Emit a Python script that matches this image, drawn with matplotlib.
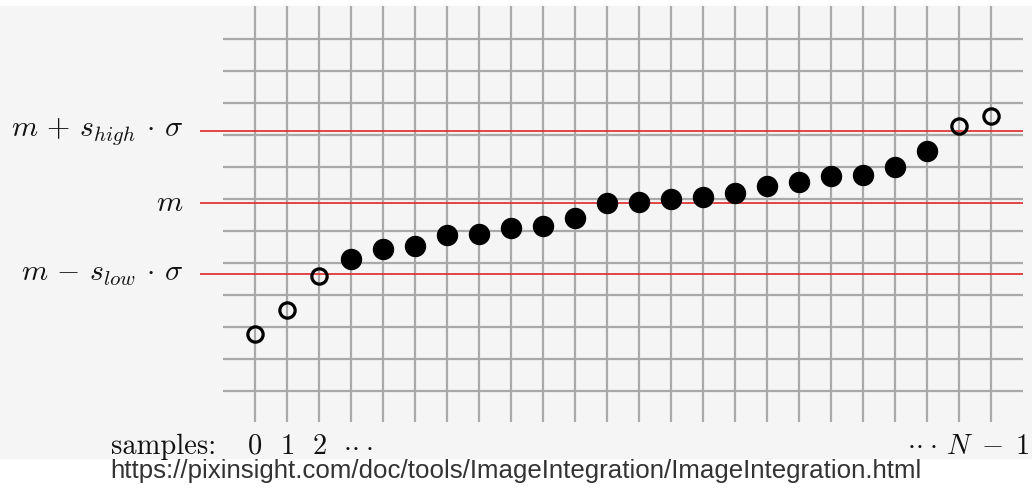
"""Sigma-clipping illustration: sorted samples vs. m +/- s*sigma rejection bounds."""
import numpy as np
import matplotlib; matplotlib.use("Agg")
import matplotlib.pyplot as plt

plt.rcParams["mathtext.fontset"] = "cm"

# sorted pixel samples, in grid units (one grid cell = 1)
samples = list(range(24))
values = [1.78, 2.53, 3.60, 4.13, 4.44, 4.53, 4.88, 4.91, 5.09, 5.16, 5.41, 5.88,
          5.90, 6.00, 6.06, 6.19, 6.41, 6.53, 6.72, 6.75, 7.00, 7.50, 8.28, 8.59]
rejected = [True, True, True] + [False] * 19 + [True, True]

# clipping levels
levels = [8.13, 5.89, 3.66]
level_labels = [r"$m\,+\,s_{high}\,\cdot\,\sigma$", r"$m$", r"$m\,-\,s_{low}\,\cdot\,\sigma$"]

tick_samples = [0, 1, 2]
tick_labels = ["0", "1", "2"]

GRID, RED, BG = "#a9a9a9", "#e03838", "#f5f5f5"

fig = plt.figure(figsize=(10.32, 4.95), dpi=100)
ax = fig.add_axes([0, 0, 1, 1])
# data units: x = sample index (32 px), y = value (32 px)
ax.set_xlim(-255 / 32, (1032 - 255) / 32)
ax.set_ylim((391 - 495) / 32, 391 / 32)
ax.axis("off")

ax.axhspan((391 - 458) / 32, (391 - 6) / 32, color=BG, zorder=0)

# grid
ax.vlines(samples, -0.97, (391 - 6) / 32, color=GRID, lw=1.6, zorder=1)
ax.hlines(np.arange(12), -1, 24, color=GRID, lw=1.6, zorder=1)

# clipping levels
ax.hlines(levels, -1.72, 24, color=RED, lw=1.3, zorder=2)
for lv, lb in zip(levels, level_labels):
    ax.text(-2.25, lv, lb, ha="right", va="center", fontsize=21.5, color="#111")

# samples
v = np.array(values); s = np.array(samples); r = np.array(rejected)
ax.plot(s[~r], v[~r], "o", ms=14.4, color="black", zorder=3)
ax.plot(s[r], v[r], "o", ms=11, mfc="none", mec="black", mew=2.3, zorder=3)

# sample axis labels
base = (391 - 454) / 32
ax.text(-1.2, base, "samples:", ha="right", va="baseline", fontsize=20.5,
        color="#111", family="cmr10")
for k, t in zip(tick_samples, tick_labels):
    ax.text(k, base, "$" + t + "$", ha="center", va="baseline", fontsize=20.5, color="#111")
ax.text(2.75, base, r"$\cdot\!\cdot\!\cdot$", ha="left", va="baseline", fontsize=20.5, color="#111")
ax.text(24.2, base, r"$\cdot\!\cdot\!\cdot\, N\;-\;1$", ha="right", va="baseline",
        fontsize=20.5, color="#111")

ax.text(516 / 32 - 255 / 32, (391 - 478) / 32,
        "https://pixinsight.com/doc/tools/ImageIntegration/ImageIntegration.html",
        ha="center", va="baseline", fontsize=18.6, color="#333", family="Liberation Sans")

fig.savefig("out.png", dpi=100)
